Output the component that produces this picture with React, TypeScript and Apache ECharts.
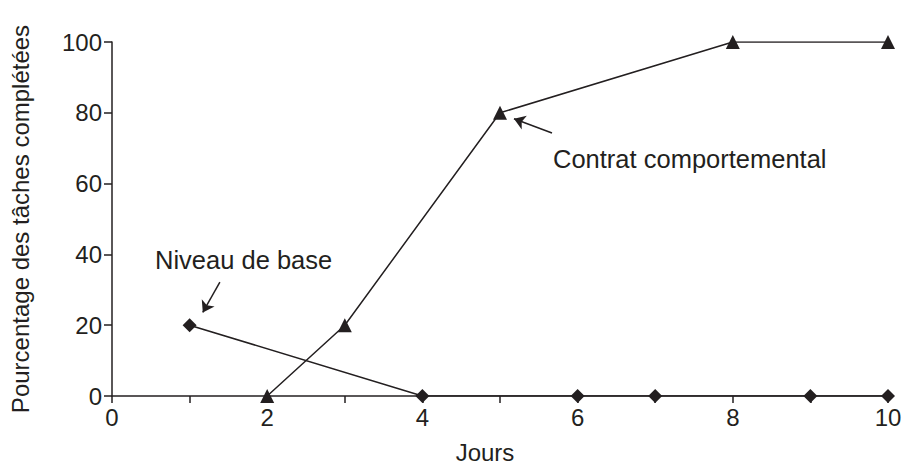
import React, { useEffect, useRef } from "react";
import * as echarts from "echarts";

const baselineDays = [1, 4, 6, 7, 9, 10];
const baselineValues = [20, 0, 0, 0, 0, 0];
const contractDays = [2, 3, 5, 8, 10];
const contractValues = [0, 20, 80, 100, 100];
const xTickLabels = ["0", "2", "4", "6", "8", "10"];
const baselineArrow = [[1.39, 32.2], [1.17, 23.6]];
const contractArrow = [[5.67, 74.3], [5.18, 78.3]];

const INK = "#231f20";
const FONT = "'Liberation Sans', Arial, Helvetica, sans-serif";

export default function App() {
  const ref = useRef<HTMLDivElement>(null);
  useEffect(() => {
    document.body.style.margin = "0";
    const chart = echarts.init(ref.current!, null, { renderer: "svg" });
    const arrowLine = (pts: number[][]) => ({
      silent: true,
      symbol: ["none", "arrow"],
      symbolSize: 11,
      label: { show: false },
      lineStyle: { color: INK, width: 1.5, type: "solid" },
      itemStyle: { color: INK },
      data: [[{ coord: pts[0] }, { coord: pts[1] }]],
    });
    chart.setOption({
      animation: false,
      backgroundColor: "#ffffff",
      textStyle: { fontFamily: FONT },
      grid: {
        left: 112,
        right: 14,
        top: 42,
        bottom: 69,
        containLabel: false,
        outerBoundsMode: "none",
      },
      xAxis: {
        type: "value",
        min: 0,
        max: 10,
        interval: 1,
        name: "Jours",
        nameLocation: "middle",
        nameGap: 44,
        nameTextStyle: { fontSize: 24, color: INK, fontFamily: FONT, padding: [0, 30, 0, 0] },
        axisLine: { show: true, lineStyle: { color: INK, width: 1.5 } },
        axisTick: { show: true, length: 7, lineStyle: { color: INK, width: 1.5 } },
        axisLabel: {
          fontSize: 24,
          color: INK,
          fontFamily: FONT,
          margin: 9,
          formatter: (v: number) => (xTickLabels.includes(String(v)) ? String(v) : ""),
        },
        splitLine: { show: false },
      },
      yAxis: {
        type: "value",
        min: 0,
        max: 100,
        interval: 20,
        name: "Pourcentage des tâches complétées",
        nameLocation: "middle",
        nameGap: 80,
        nameRotate: 90,
        nameTextStyle: { fontSize: 24, color: INK, fontFamily: FONT },
        axisLine: { show: true, lineStyle: { color: INK, width: 1.5 } },
        axisTick: { show: true, length: 8, lineStyle: { color: INK, width: 1.5 } },
        axisLabel: { fontSize: 24, color: INK, fontFamily: FONT, margin: 10 },
        splitLine: { show: false },
      },
      series: [
        {
          type: "line",
          name: "Contrat comportemental",
          data: contractDays.map((d, i) => [d, contractValues[i]]),
          symbol: "triangle",
          symbolSize: 14,
          itemStyle: { color: INK },
          lineStyle: { color: INK, width: 1.5 },
          z: 2,
          markLine: arrowLine(contractArrow),
        },
        {
          type: "line",
          name: "Niveau de base",
          data: baselineDays.map((d, i) => [d, baselineValues[i]]),
          symbol: "diamond",
          symbolSize: 14,
          itemStyle: { color: INK },
          lineStyle: { color: INK, width: 1.5 },
          z: 3,
          markLine: arrowLine(baselineArrow),
        },
      ],
      graphic: [
        {
          type: "text",
          left: 155,
          top: 247,
          style: { text: "Niveau de base", fontSize: 25.5, fontFamily: FONT, fill: INK },
        },
        {
          type: "text",
          left: 553,
          top: 146,
          style: { text: "Contrat comportemental", fontSize: 25.5, fontFamily: FONT, fill: INK },
        },
      ],
    });
    return () => chart.dispose();
  }, []);
  return <div ref={ref} style={{ width: 902, height: 465 }} />;
}
